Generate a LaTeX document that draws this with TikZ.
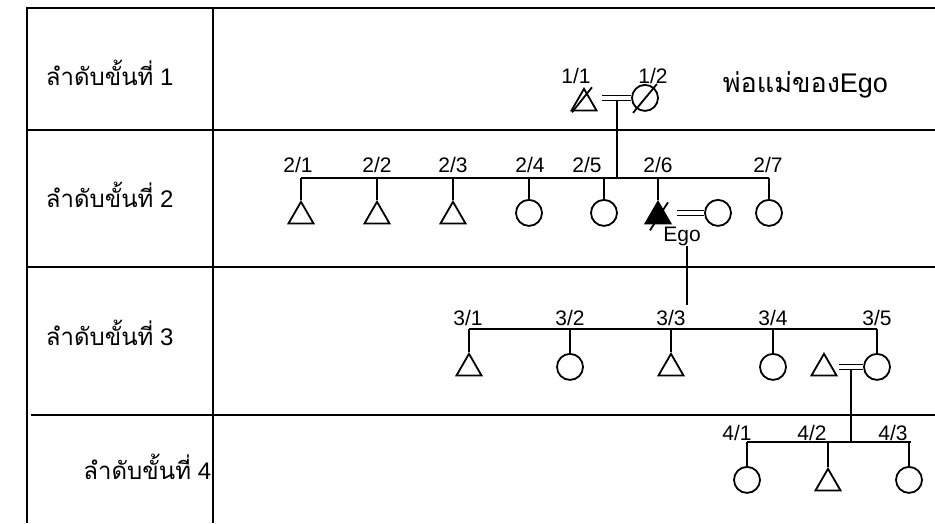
\documentclass[tikz,border=0pt]{standalone}
\usepackage{fontspec}
\setmainfont{Liberation Sans}
\newfontfamily\thaifont[Script=Thai]{Loma}
\usetikzlibrary{shapes.geometric}

\begin{document}
\begin{tikzpicture}[x=1pt, y=-1pt, line width=1.8pt,
  male/.style={draw, regular polygon, regular polygon sides=3, minimum size=29pt, inner sep=0pt, anchor=north},
  female/.style={draw, circle, minimum size=26pt, inner sep=0pt, anchor=north},
  num/.style={font=\fontsize{21}{24}\selectfont, inner sep=0pt},
  rank/.style={font=\fontsize{24}{27}\selectfont, inner sep=0pt},
  marry/.style={double, double distance=3.5pt, line width=1.5pt}]
  \useasboundingbox (0,0) rectangle (935,523);
  \draw (27,523) -- (27,8) -- (935,8);
  \draw (213,8) -- (213,523);
  \draw (27,130) -- (935,130);
  \draw (27,267) -- (935,267);
  \draw (31,415) -- (935,415);

  \node[rank, anchor=west] (r1) at (45,73)  {{\thaifont ลำดับขั้นที่} 1};
  \node[rank, anchor=west] (r2) at (45,195) {{\thaifont ลำดับขั้นที่} 2};
  \node[rank, anchor=west] (r3) at (45,333) {{\thaifont ลำดับขั้นที่} 3};
  \node[rank, anchor=east] (r4) at (212,467) {{\thaifont ลำดับขั้นที่} 4};
  \node[font=\fontsize{27}{30}\selectfont, inner sep=0pt, anchor=west] (title) at (722,85) {{\thaifont พ่อแม่ของ}Ego};

  \node[male] (p11) at (584,87) {};
  \node[female] (p12) at (645,84) {};
  \node[num] (l11) at (576,76) {1/1};
  \node[num] (l12) at (653,76) {1/2};
  \draw ([shift={(-12,9)}]p11.center) -- ([shift={(8,-16)}]p11.center);
  \draw ([shift={(-12,15)}]p12.center) -- ([shift={(12,-14)}]p12.center);
  \draw[marry] ([xshift=4pt]p11.corner 3 |- p12.center) -- coordinate (m1) (p12.west);
  \coordinate (s2l) at (301,178);
  \coordinate (s2r) at (769,178);
  \draw ([yshift=-3pt]m1) -- (m1 |- s2l);
  \draw (s2l) -- (s2r);

  \node[male] (p21) at (301,200) {};
  \node[male] (p22) at (377,200) {};
  \node[male] (p23) at (453,200) {};
  \node[female] (p24) at (529,199) {};
  \node[female] (p25) at (604,199) {};
  \node[male, fill=black] (p26) at (658,200) {};
  \node[female] (p27) at (769,199) {};
  \node[female] (w26) at (718,199) {};
  \node[num] (l21) at (298,165) {2/1};
  \node[num] (l22) at (377,165) {2/2};
  \node[num] (l23) at (453,165) {2/3};
  \node[num] (l24) at (530,165) {2/4};
  \node[num] (l25) at (587,165) {2/5};
  \node[num] (l26) at (658,165) {2/6};
  \node[num] (l27) at (768,165) {2/7};
  \node[num] (ego) at (682,236) {Ego};
  \foreach \p in {p21,p22,p23,p24,p25,p26,p27}
    \draw (\p.north) -- (\p.north |- s2l);
  \draw ([shift={(-8,14)}]p26.center) -- ([shift={(10,-14)}]p26.center);
  \draw[marry] ([xshift=5pt]p26.corner 3 |- w26.center) -- (w26.west);
  \coordinate (d2) at (687,305);
  \draw (ego.south -| d2) -- (d2);

  \coordinate (s3l) at (469,329);
  \coordinate (s3r) at (877,329);
  \draw (s3l) -- (s3r);
  \node[male] (p31) at (469,352) {};
  \node[female] (p32) at (570,353) {};
  \node[male] (p33) at (671,352) {};
  \node[female] (p34) at (773,353) {};
  \node[female] (p35) at (877,353) {};
  \node[male] (w35) at (824,352) {};
  \node[num] (l31) at (468,318) {3/1};
  \node[num] (l32) at (570,318) {3/2};
  \node[num] (l33) at (671,318) {3/3};
  \node[num] (l34) at (773,318) {3/4};
  \node[num] (l35) at (877,318) {3/5};
  \foreach \p in {p31,p32,p33,p34,p35}
    \draw (\p.north) -- (\p.north |- s3l);
  \draw[marry] ([xshift=1pt]w35.corner 3 |- p35.center) -- coordinate (m3) (p35.west);
  \coordinate (s4l) at (747,442);
  \coordinate (s4r) at (911,442);
  \draw ([yshift=-3pt]m3) -- (m3 |- s4l);
  \draw (s4l) -- (s4r);

  \node[female] (p41) at (747,466) {};
  \node[male] (p42) at (828,467) {};
  \node[female] (p43) at (909,466) {};
  \node[num] (l41) at (737,433) {4/1};
  \node[num] (l42) at (812,433) {4/2};
  \node[num] (l43) at (893,433) {4/3};
  \foreach \p in {p41,p42,p43}
    \draw (\p.north) -- (\p.north |- s4l);
\end{tikzpicture}
\end{document}
